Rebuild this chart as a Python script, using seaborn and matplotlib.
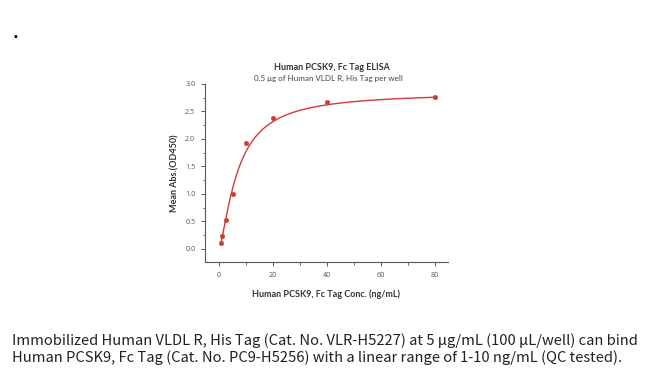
import numpy as np
import pandas as pd
import matplotlib
matplotlib.use("Agg")
import matplotlib.pyplot as plt
import seaborn as sns
from matplotlib.ticker import MultipleLocator

# Data
conc = [0.625, 1.25, 2.5, 5, 10, 20, 40, 80]
od450 = [0.11, 0.23, 0.53, 1.00, 1.93, 2.39, 2.68, 2.76]

# 4-parameter logistic fit parameters (estimated from the drawn curve)
fit_bottom = 0.0
fit_top = 2.85
fit_ec50 = 7.0
fit_hill = 1.4

title = "Human PCSK9, Fc Tag ELISA"
subtitle = "0.5 \u03bcg of Human VLDL R, His Tag per well"
xlabel = "Human PCSK9, Fc Tag Conc. (ng/mL)"
ylabel = "Mean Abs.(OD450)"
caption = ("Immobilized Human VLDL R, His Tag (Cat. No. VLR-H5227) at 5 \u03bcg/mL (100 \u03bcL/well) can bind\n"
           "Human PCSK9, Fc Tag (Cat. No. PC9-H5256) with a linear range of 1-10 ng/mL (QC tested).")

sns.set_style("ticks")
plt.rcParams['font.family'] = ['Lato', 'DejaVu Sans']

red = "#d23a3a"
W, H = 650, 376
fig = plt.figure(figsize=(W / 100, H / 100), dpi=100)
ax = fig.add_axes([205 / W, 1 - 262 / H, (448 - 205) / W, (262 - 84) / H])

pts = pd.DataFrame({"conc": conc, "od": od450})
xs = np.geomspace(conc[0], conc[-1], 300)
ys = fit_top + (fit_bottom - fit_top) / (1 + (xs / fit_ec50) ** fit_hill)
curve = pd.DataFrame({"conc": xs, "od": ys})

sns.lineplot(data=curve, x="conc", y="od", ax=ax, color=red, linewidth=1.0)
sns.scatterplot(data=pts, x="conc", y="od", ax=ax, color=red, s=11, marker="o",
                edgecolor=red, linewidth=0.3, zorder=3)

ax.set_xlim(-5.2, 84.8)
ax.set_ylim(-0.24, 3.0)
ax.xaxis.set_major_locator(MultipleLocator(20))
ax.xaxis.set_minor_locator(MultipleLocator(10))
ax.yaxis.set_major_locator(MultipleLocator(0.5))
ax.yaxis.set_minor_locator(MultipleLocator(0.25))
ax.yaxis.set_major_formatter(matplotlib.ticker.FormatStrFormatter('%.1f'))
for s in ["top", "right"]:
    ax.spines[s].set_visible(False)
for s in ["left", "bottom"]:
    ax.spines[s].set_color("#555555")
    ax.spines[s].set_linewidth(0.8)
ax.tick_params(which="major", length=3, width=0.7, color="#555555", labelsize=5.2, labelcolor="#555555", pad=4)
ax.tick_params(which="minor", length=1.8, width=0.6, color="#555555")
for lab in ax.get_xticklabels() + ax.get_yticklabels():
    lab.set_family(['Open Sans', 'DejaVu Sans'])

ax.set_xlabel(xlabel, fontsize=6.5, fontweight="bold", color="#333333", labelpad=8)
ax.set_ylabel(ylabel, fontsize=6.5, fontweight="bold", color="#333333", labelpad=4)

fig.text(332 / W, 1 - 67 / H, title, ha="center", va="center", fontsize=6.5, fontweight="bold", color="#333333")
fig.text(328 / W, 1 - 78 / H, subtitle, ha="center", va="center", fontsize=5.8, color="#444444")

fig.text(12 / W, 1 - 349 / H, caption, ha="left", va="center", fontsize=10.6,
         family=['Noto Sans CJK SC', 'DejaVu Sans'], color="#222222", linespacing=1.25)

fig.text(15 / W, 1 - 37 / H, "\u25aa", ha="center", va="center", fontsize=7, color="black")

fig.savefig("out.png", dpi=100)
